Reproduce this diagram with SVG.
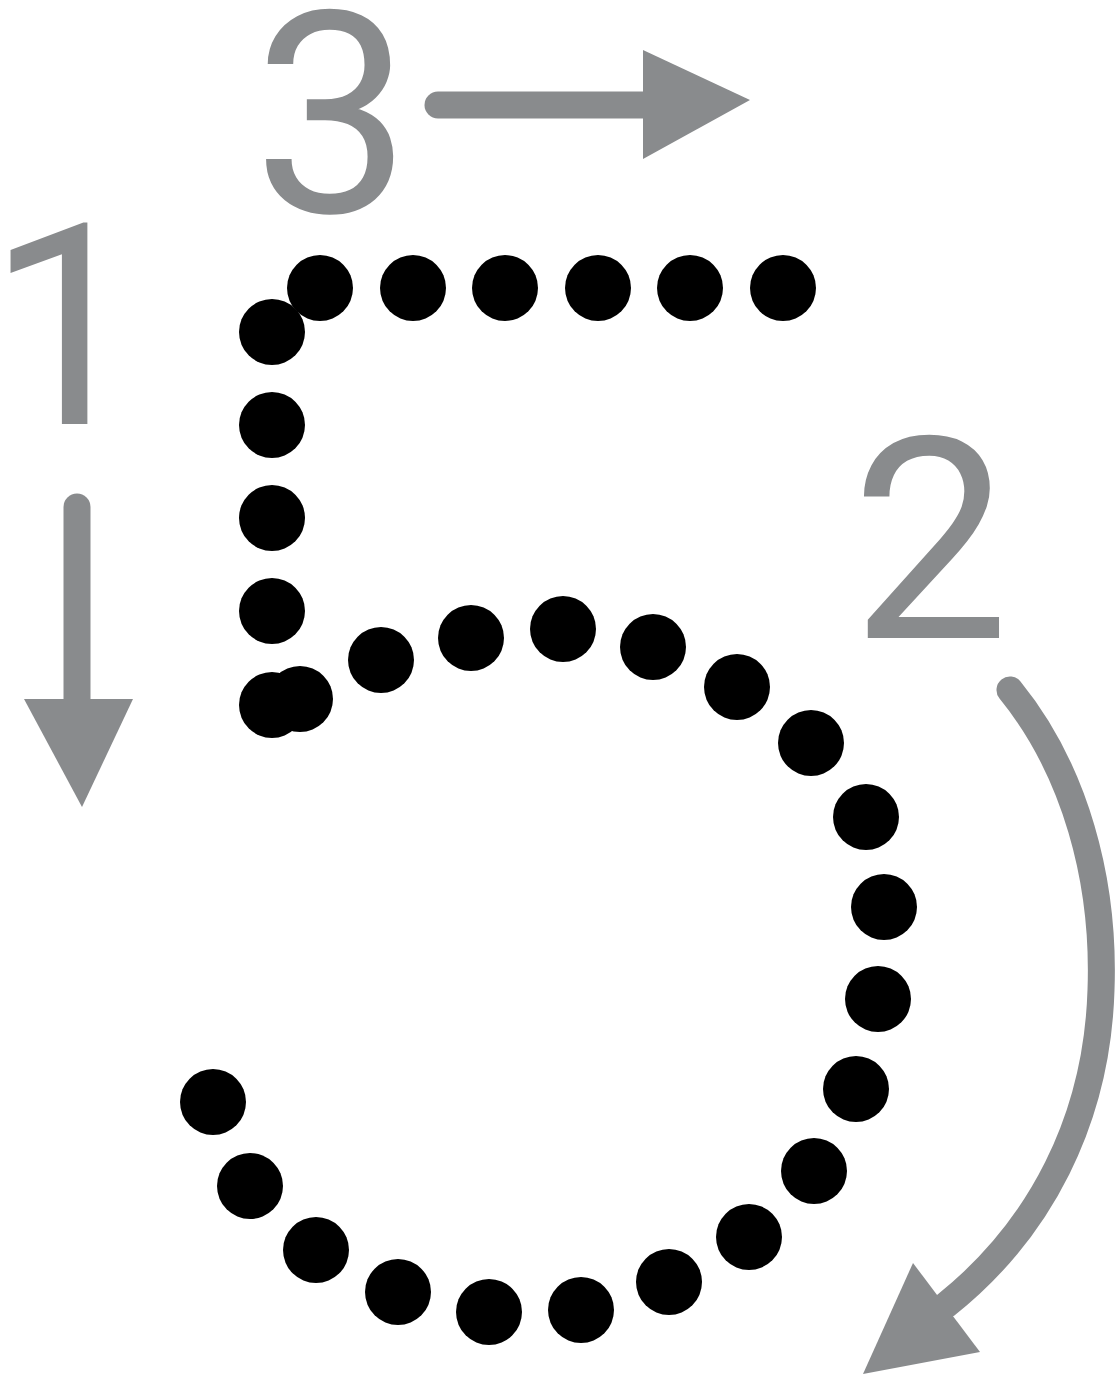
<svg xmlns="http://www.w3.org/2000/svg" width="1116" height="1378" viewBox="0 0 1116 1378">
<style>
.num{font-family:Roboto,"Liberation Sans",sans-serif;font-size:282px;fill:#898b8d}
.stem{fill:none;stroke:#898b8d;stroke-width:27;stroke-linecap:round}
.head{fill:#898b8d}
.dot{fill:#000}
</style>
<rect width="1116" height="1378" fill="#fff"/>
<g id="labels">
<text id="label-1" class="num" x="-13" y="424">1</text>
<text id="label-3" class="num" x="253" y="212">3</text>
<text id="label-2" class="num" x="851" y="638">2</text>
</g>
<g id="connectors">
<g id="arrow-1"><path class="stem" d="M77,507 L77,705"/><polygon class="head" points="24,699 133,699 82,807"/></g>
<g id="arrow-3"><path class="stem" d="M438,105 L650,105"/><polygon class="head" points="643,50 750,100 643,159"/></g>
<g id="arrow-2"><path class="stem" d="M1010,690 C1075,770 1105,880 1101,990 C1097,1120 1040,1230 946,1305"/><polygon class="head" points="913,1263 980,1352 863,1374"/></g>
</g>
<g id="dots">
<circle class="dot" cx="320" cy="288" r="33"/>
<circle class="dot" cx="413" cy="288" r="33"/>
<circle class="dot" cx="505" cy="288" r="33"/>
<circle class="dot" cx="598" cy="288" r="33"/>
<circle class="dot" cx="690" cy="288" r="33"/>
<circle class="dot" cx="783" cy="288" r="33"/>
<circle class="dot" cx="272" cy="332" r="33"/>
<circle class="dot" cx="272" cy="425" r="33"/>
<circle class="dot" cx="272" cy="518" r="33"/>
<circle class="dot" cx="272" cy="611" r="33"/>
<circle class="dot" cx="272" cy="705" r="33"/>
<circle class="dot" cx="300" cy="699" r="33"/>
<circle class="dot" cx="381" cy="660" r="33"/>
<circle class="dot" cx="471" cy="638" r="33"/>
<circle class="dot" cx="563" cy="629" r="33"/>
<circle class="dot" cx="653" cy="647" r="33"/>
<circle class="dot" cx="737" cy="687" r="33"/>
<circle class="dot" cx="811" cy="743" r="33"/>
<circle class="dot" cx="866" cy="817" r="33"/>
<circle class="dot" cx="884" cy="907" r="33"/>
<circle class="dot" cx="878" cy="999" r="33"/>
<circle class="dot" cx="856" cy="1089" r="33"/>
<circle class="dot" cx="814" cy="1171" r="33"/>
<circle class="dot" cx="749" cy="1237" r="33"/>
<circle class="dot" cx="669" cy="1282" r="33"/>
<circle class="dot" cx="581" cy="1310" r="33"/>
<circle class="dot" cx="489" cy="1312" r="33"/>
<circle class="dot" cx="398" cy="1292" r="33"/>
<circle class="dot" cx="316" cy="1250" r="33"/>
<circle class="dot" cx="250" cy="1186" r="33"/>
<circle class="dot" cx="213" cy="1102" r="33"/>
</g>
</svg>
